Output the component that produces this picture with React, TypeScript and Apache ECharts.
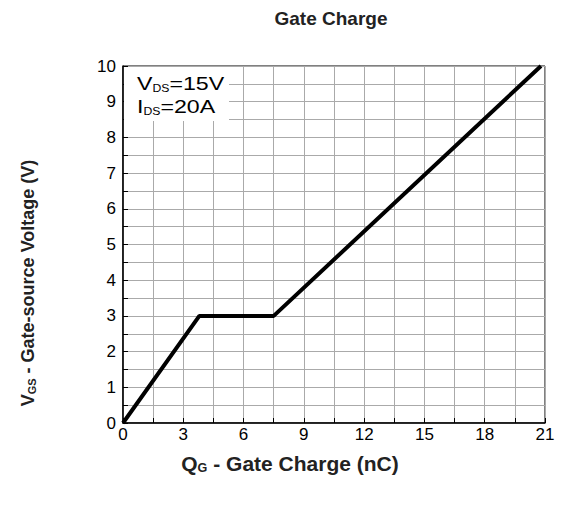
import React, { useEffect, useRef } from "react";
import * as echarts from "echarts";

const qg = [0, 3.8, 7.5, 20.8];
const vgs = [0, 3, 3, 10];
const xTicks = [0, 3, 6, 9, 12, 15, 18, 21];
const yTicks = [0, 1, 2, 3, 4, 5, 6, 7, 8, 9, 10];
const titleText = "Gate Charge";
const conditions = ["{m|V}{s|DS}{m|=15V}", "{m|I}{s|DS}{m|=20A}"];
const xName = "{m|Q}{s|G}{m| - Gate Charge (nC)}";
const yName = "{m|V}{s|GS}{m| - Gate-source Voltage (V)}";

const FONT = "Liberation Sans, Arial, sans-serif";

export default function App() {
  const ref = useRef<HTMLDivElement>(null);
  useEffect(() => {
    if (!ref.current) return;
    const chart = echarts.init(ref.current, undefined, { renderer: "svg" });
    const nameRich = (size: number) => ({
      m: { fontSize: size, fontWeight: "bold", fontFamily: FONT, fill: "#222", verticalAlign: "bottom", lineHeight: size + 4 },
      s: { fontSize: Math.round(size * 0.6), fontWeight: "bold", fontFamily: FONT, fill: "#222", verticalAlign: "bottom", lineHeight: size },
    });
    chart.setOption({
      animation: false,
      backgroundColor: "#fff",
      grid: {
        left: 123,
        right: 17,
        top: 66,
        bottom: 85,
        show: true,
        borderColor: "#000",
        borderWidth: 1,
      },
      xAxis: {
        type: "value",
        min: xTicks[0],
        max: xTicks[xTicks.length - 1],
        interval: 3,
        axisLine: { show: true, lineStyle: { color: "#000", width: 1.5 } },
        axisTick: { show: true, inside: true, length: 5, lineStyle: { color: "#000" } },
        minorTick: { show: true, splitNumber: 2, length: 5, lineStyle: { color: "#000" } },
        axisLabel: { color: "#000", fontSize: 17, fontFamily: FONT, margin: 3 },
        splitLine: { show: true, lineStyle: { color: "#aaa", width: 1 } },
        minorSplitLine: { show: true, lineStyle: { color: "#aaa", width: 1 } },
      },
      yAxis: {
        type: "value",
        min: yTicks[0],
        max: yTicks[yTicks.length - 1],
        interval: 1,
        axisLine: { show: true, lineStyle: { color: "#000", width: 1.5 } },
        axisTick: { show: true, inside: true, length: 5, lineStyle: { color: "#000" } },
        minorTick: { show: true, splitNumber: 2, length: 5, lineStyle: { color: "#000" } },
        axisLabel: { color: "#000", fontSize: 17, fontFamily: FONT, margin: 7 },
        splitLine: { show: true, lineStyle: { color: "#aaa", width: 1 } },
        minorSplitLine: { show: true, lineStyle: { color: "#aaa", width: 1 } },
      },
      graphic: [
        {
          type: "text",
          x: 331,
          y: 18,
          style: {
            text: titleText,
            fontFamily: FONT,
            fontWeight: "bold",
            fontSize: 19,
            fill: "#222",
            align: "center",
            verticalAlign: "middle",
          },
        },
        {
          type: "text",
          x: 290,
          y: 462,
          scaleX: 1.05,
          style: {
            text: xName,
            rich: nameRich(20),
            align: "center",
            verticalAlign: "middle",
          },
        },
        {
          type: "text",
          x: 26,
          y: 283,
          rotation: Math.PI / 2,
          style: {
            text: yName,
            rich: nameRich(18),
            align: "center",
            verticalAlign: "middle",
          },
        },
        {
          type: "rect",
          left: 124,
          top: 67,
          z: 10,
          shape: { width: 105, height: 54 },
          style: { fill: "#fff" },
        },
        {
          type: "text",
          x: 137,
          y: 70,
          z: 11,
          scaleX: 1.22,
          style: {
            text: conditions.join("\n"),
            rich: {
              m: { fontSize: 19, fontFamily: FONT, fill: "#000", verticalAlign: "bottom", lineHeight: 23 },
              s: { fontSize: 10, fontFamily: FONT, fill: "#000", verticalAlign: "bottom", lineHeight: 16 },
            },
          },
        },
      ],
      series: [
        {
          type: "line",
          data: qg.map((q, i) => [q, vgs[i]]),
          showSymbol: false,
          symbol: "none",
          lineStyle: { color: "#000", width: 4 },
          z: 5,
        },
      ],
    });
    return () => chart.dispose();
  }, []);
  return (
    <div
      ref={ref}
      style={{ position: "absolute", left: 0, top: 0, width: 562, height: 508 }}
    />
  );
}
